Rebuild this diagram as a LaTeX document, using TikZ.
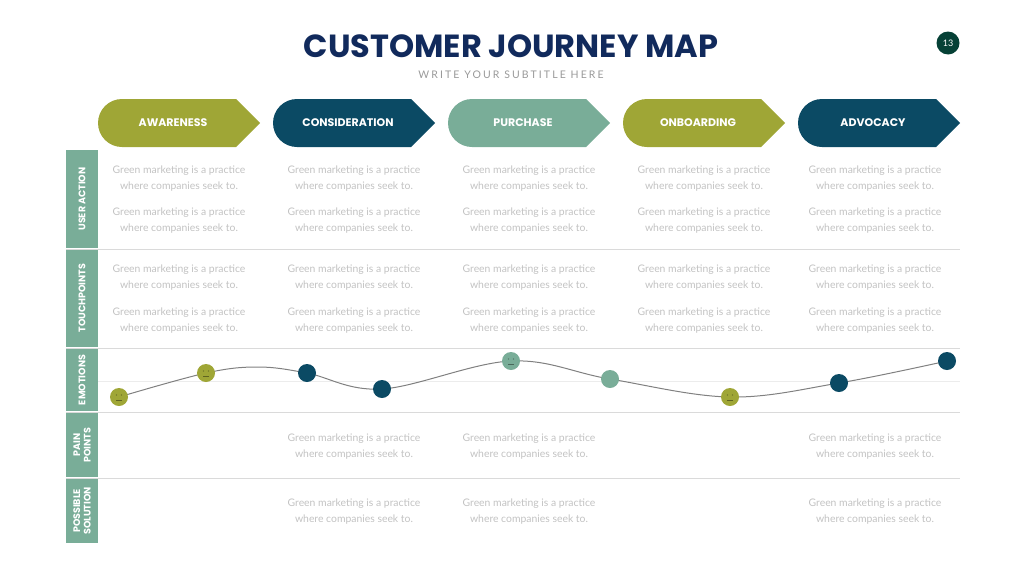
\documentclass[tikz,border=0pt]{standalone}
\usepackage{fontspec}
\setmainfont{Lato}
\newfontfamily\popfont{Poppins}
\definecolor{olive}{HTML}{9FA636}
\definecolor{navy}{HTML}{0B4A64}
\definecolor{sage}{HTML}{79AD98}
\definecolor{titleblue}{HTML}{112A5C}
\definecolor{bodygray}{HTML}{C2C2C2}
\definecolor{rulegray}{HTML}{DADADA}
\tikzset{
  stage/.style={font=\popfont\bfseries\fontsize{11}{13}\selectfont, text=white},
  rowlabel/.style={font=\popfont\bfseries\fontsize{9.5}{10.5}\selectfont, text=white, rotate=90, align=center},
  body/.style={font=\fontsize{10.4}{16}\selectfont, text=bodygray, align=center},
  mood/.style={circle, minimum size=18pt, inner sep=0pt},
}
\newcommand{\chev}[3]{% x, colour, name
  \fill[#2] (#1+24,99) -- (#1+138,99) -- (#1+162,123) -- (#1+138,147) -- (#1+24,147)
    arc[start angle=90, end angle=270, radius=24] -- cycle;
  \node[stage] (#3) at (#1+75,123) {\MakeUppercase{#3}};
}
\newcommand{\txt}[2]{\node[body] at (#1,#2) {Green marketing is a practice\\where companies seek to.};}
\begin{document}
\begin{tikzpicture}[x=1pt,y=-1pt]
  \useasboundingbox (0,0) rectangle (1024,576);
  \node[font=\popfont\bfseries\fontsize{32}{36}\selectfont, text=titleblue] (title) at (511,46) {CUSTOMER JOURNEY MAP};
  \node[font=\fontsize{10.5}{12}\selectfont, text=gray!80] (subtitle) at (511,75) {\addfontfeature{LetterSpace=20}WRITE YOUR SUBTITLE HERE};
  \node[circle, fill=navy!60!black!90!green, minimum size=23pt, inner sep=0pt, text=white, font=\fontsize{9}{10}\selectfont] (page) at (948,43) {13};

  % stages
  \chev{98}{olive}{Awareness}
  \chev{273}{navy}{Consideration}
  \chev{448}{sage}{Purchase}
  \chev{623}{olive}{Onboarding}
  \chev{798}{navy}{Advocacy}

  % row labels
  \fill[sage] (66,150) rectangle (98,248);
  \node[rowlabel] (ua) at (82,199) {USER ACTION};
  \fill[sage] (66,250) rectangle (98,347);
  \node[rowlabel] (tp) at (82,298) {TOUCHPOINTS};
  \fill[sage] (66,349) rectangle (98,411);
  \node[rowlabel] (em) at (82,380) {EMOTIONS};
  \fill[sage] (66,413) rectangle (98,477);
  \node[rowlabel] (pp) at (82,445) {PAIN\\POINTS};
  \fill[sage] (66,479) rectangle (98,543);
  \node[rowlabel] (ps) at (82,511) {POSSIBLE\\SOLUTION};

  \foreach \y in {249,348,412,478}
    \draw[rulegray, line width=1pt] (66,\y) -- (960,\y);
  \draw[rulegray!50, line width=0.8pt] (98,381) -- (960,381);

  % texts
  \foreach \x in {179,354,529,704,875} {
    \txt{\x}{179} \txt{\x}{221} \txt{\x}{278} \txt{\x}{321}
  }
  \foreach \x in {354,529,875} {
    \txt{\x}{447} \txt{\x}{512}
  }

  % emotions
  \draw[gray, line width=1pt] plot[smooth, tension=0.6] coordinates
    {(119,397) (206,373) (258,367) (307,373) (382,389) (511,361) (610,379) (730,397) (839,383) (947,361)};
  \foreach \x/\y/\c/\n in {119/397/olive/e1, 206/373/olive/e2, 307/373/navy/e3, 382/389/navy/e4,
      511/361/sage/e5, 610/379/sage/e6, 730/397/olive/e7, 839/383/navy/e8, 947/361/navy/e9}
    \node[mood, fill=\c] (\n) at (\x,\y) {};
  \foreach \n/\c in {e1/olive, e2/olive, e5/sage, e7/olive} {
    \fill[\c!60!black] ([xshift=-2.5pt,yshift=2pt]\n.center) circle (0.7pt)
                       ([xshift=2.5pt,yshift=2pt]\n.center) circle (0.7pt);
    \draw[\c!60!black, line width=0.5pt] ([xshift=-3pt,yshift=-3pt]\n.center) -- ([xshift=3pt,yshift=-3pt]\n.center);
  }
\end{tikzpicture}
\end{document}
